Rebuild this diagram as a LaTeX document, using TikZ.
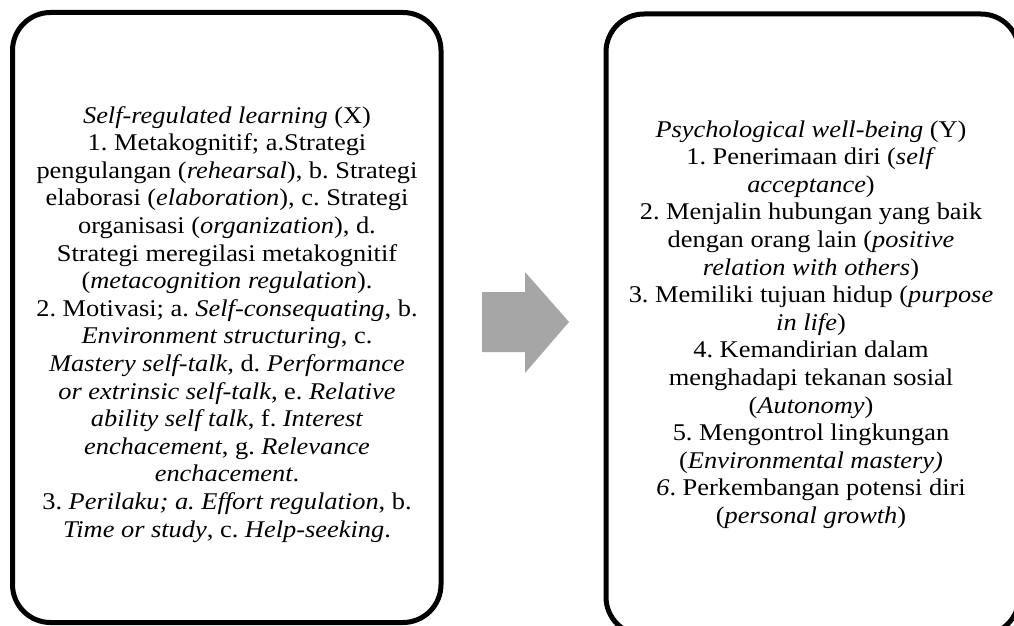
\documentclass[tikz,border=0pt]{standalone}
\usepackage{fontspec}
\setmainfont[FakeStretch=1.1]{Liberation Serif}
\frenchspacing
\begin{document}
\begin{tikzpicture}[x=1pt,y=-1pt,
  box/.style={draw=black, line width=5pt, rounded corners=38pt, fill=none, inner sep=0pt, outer sep=0pt},
  txt/.style={align=center, inner sep=0pt, outer sep=0pt, anchor=north, font=\fontsize{24pt}{27.6pt}\selectfont\frenchspacing},
  arrowfill/.style={fill=arrowgray, draw=none}]
\definecolor{arrowgray}{HTML}{A6A6A6}
\useasboundingbox (0,0) rectangle (1014,626);
\clip (0,0) rectangle (1014,626);
\fill[white] (0,0) rectangle (1014,626);
\node[box, minimum width=428.5pt, minimum height=610pt] (leftbox) at (226.75,317.5) {};
\node[box, minimum width=413pt, minimum height=621pt] (rightbox) at (812.5,324.5) {};
\node[txt] (lefttext) at (227,103) {\rule{0pt}{20pt}\textit{Self-regulated learning} (X)\\
1. Metakognitif; a.Strategi\\
pengulangan (\textit{rehearsal}), b. Strategi\\
elaborasi (\textit{elaboration}), c. Strategi\\
organisasi (\textit{organization}), d.\\
Strategi meregilasi metakognitif\\
(\textit{metacognition regulation}).\\
2. Motivasi; a. \textit{Self-consequating}, b.\\
\textit{Environment structuring}, c.\\
\textit{Mastery self-talk}, d. \textit{Performance}\\
\textit{or extrinsic self-talk}, e. \textit{Relative}\\
\textit{ability self talk}, f. \textit{Interest}\\
\textit{enchacement}, g. \textit{Relevance}\\
\textit{enchacement}.\\
3. \textit{Perilaku; a. Effort regulation}, b.\\
\textit{Time or study}, c. \textit{Help-seeking}.};
\node[txt] (righttext) at (811,117) {\rule{0pt}{20pt}\textit{Psychological well-being} (Y)\\
1. Penerimaan diri (\textit{self}\\
\textit{acceptance})\\
2. Menjalin hubungan yang baik\\
dengan orang lain (\textit{positive}\\
\textit{relation with others})\\
3. Memiliki tujuan hidup (\textit{purpose}\\
\textit{in life})\\
4. Kemandirian dalam\\
menghadapi tekanan sosial\\
(\textit{Autonomy})\\
5. Mengontrol lingkungan\\
(\textit{Environmental mastery)}\\
\textit{6}. Perkembangan potensi diri\\
(\textit{personal growth})};
\coordinate (arrowtail) at (482,322);
\coordinate (arrowtip) at (569,322);
\fill[arrowfill] (arrowtail) ++(0,-30) -- (525,292) -- (525,272) -- (arrowtip) -- (525,373) -- (525,352) -- (482,352) -- cycle;
\end{tikzpicture}
\end{document}
